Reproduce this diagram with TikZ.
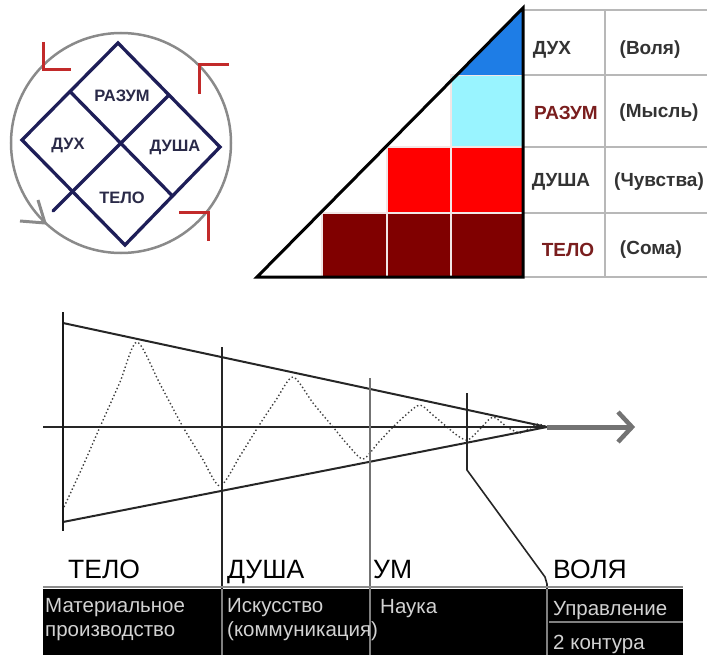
\documentclass[tikz,border=0pt]{standalone}
\usepackage{fontspec}
\setmainfont{Liberation Sans}
\usetikzlibrary{arrows.meta}
\definecolor{navy}{HTML}{1E1E58}
\definecolor{labnavy}{HTML}{2A2A48}
\definecolor{markred}{HTML}{C22A2A}
\definecolor{circgray}{HTML}{8A8A8A}
\definecolor{dred}{HTML}{800000}
\definecolor{bred}{HTML}{FF0000}
\definecolor{lcyan}{HTML}{99F4FF}
\definecolor{mblue}{HTML}{1E7DE6}
\definecolor{tgray}{HTML}{B8B8B8}
\definecolor{txtred}{HTML}{7A1E1E}
\definecolor{txtdark}{HTML}{333333}
\definecolor{celltxt}{HTML}{D2D2D2}
\definecolor{cellsep}{HTML}{F2E6E6}
\begin{document}
\begin{tikzpicture}[x=1pt,y=-1pt,
  dline/.style={draw=navy,line width=3.3pt,line cap=round},
  rmark/.style={draw=markred,line width=3pt},
  dlabel/.style={font=\fontsize{16.5}{18}\selectfont\bfseries,text=labnavy,inner sep=0pt},
  tlab/.style={font=\fontsize{19}{21}\selectfont\bfseries,inner sep=0pt},
  cellbox/.style={draw=cellsep,line width=1.5pt},
  tline/.style={draw=tgray,line width=2pt},
  blab/.style={font=\fontsize{26.5}{28}\selectfont,inner sep=0pt,anchor=base west},
  ctxt/.style={font=\fontsize{20.5}{24}\selectfont,text=celltxt,inner sep=0pt,anchor=base west},
  wave/.style={draw=black!75,line width=1.4pt,dash pattern=on 1.4pt off 2.4pt},
]
\useasboundingbox (0,0) rectangle (707,655);

% ---------- circle diagram ----------
\coordinate (cc) at (121,143);
\draw[draw=circgray,line width=2.5pt] (cc) circle[radius=110];
\draw[draw=circgray,line width=3pt,line join=miter] (20,221) -- (45,223) -- (38,200);
\coordinate (dT) at (118,43);
\coordinate (dR) at (220,147);
\coordinate (dB) at (125,245);
\coordinate (dL) at (22,140);
\coordinate (mTL) at (70,91.5);
\coordinate (mTR) at (169,95);
\coordinate (mRB) at (172.5,196);
\coordinate (mBL) at (73.5,192.5);
\coordinate (tail) at (53,211);
\draw[dline,line join=miter] (dT) -- (dR) -- (dB) -- (dL) -- cycle;
\draw[dline] (mTL) -- (mRB);
\draw[dline] (mTR) -- (tail);
\draw[rmark] (43,42) -- (43,70) -- (71,70);
\draw[rmark] (229,65) -- (199,65) -- (199,94);
\draw[rmark] (179,213) -- (208,213) -- (208,241);
\node[dlabel] (lraz) at (122,96) {РАЗУМ};
\node[dlabel] (ldux) at (68,145) {ДУХ};
\node[dlabel] (ldus) at (175,147) {ДУША};
\node[dlabel] (ltel) at (122,198) {ТЕЛО};

% ---------- triangle diagram ----------
\coordinate (tA) at (257,277);
\coordinate (tB) at (523,8);
\coordinate (tC) at (523,277);
\path[cellbox,fill=dred] (322,213) rectangle (387,277);
\path[cellbox,fill=dred] (387,213) rectangle (451,277);
\path[cellbox,fill=dred] (451,213) rectangle (523,277);
\path[cellbox,fill=bred] (387,147) rectangle (451,213);
\path[cellbox,fill=bred] (451,147) rectangle (523,213);
\path[cellbox,fill=lcyan] (451,75) rectangle (523,147);
\fill[mblue] (457,75) -- (523,8) -- (523,75) -- cycle;
% table
\draw[tline] (523,10) -- (707,10);
\draw[tline] (523,75) -- (707,75);
\draw[tline] (523,147) -- (707,147);
\draw[tline] (523,213) -- (707,213);
\draw[tline] (523,277) -- (707,277);
\draw[tline] (605,10) -- (605,277);
\draw[black,line width=3pt,line join=miter] (tA) -- (tB) -- (tC) -- cycle;
\node[tlab,text=txtdark] (t1a) at (552,50) {ДУХ};
\node[tlab,text=txtdark] (t1b) at (650,50) {(Воля)};
\node[tlab,text=txtred] (t2a) at (566,113) {РАЗУМ};
\node[tlab,text=txtdark] (t2b) at (659,113) {(Мысль)};
\node[tlab,text=txtdark] (t3a) at (561,182) {ДУША};
\node[tlab,text=txtdark] (t3b) at (659,182) {(Чувства)};
\node[tlab,text=txtred] (t4a) at (568,250) {ТЕЛО};
\node[tlab,text=txtdark] (t4b) at (651,250) {(Сома)};

% ---------- cone diagram ----------
\coordinate (apex) at (547,427);
\coordinate (up0) at (63,323);
\coordinate (lo0) at (63,522);
\draw[wave] plot[smooth,tension=0.45] coordinates {
 (64,507) (82,468) (100,427) (120,382) (137,342) (160,384) (183,427) (202,458) (220,486)
 (240,456) (258,427) (276,400) (293,377) (313,403) (333,427) (348,445) (363,459)
 (378,443) (393,427) (407,414) (420,405) (434,416) (447,427) (458,436) (468,440)
 (480,429) (493,417) (507,427) (520,433) (530,428) (538,424) (547,427)};
\draw[black!85,line width=1.6pt] (43,427) -- (apex);
\draw[black!85,line width=2pt] (up0) -- (apex);
\draw[black!85,line width=2pt] (lo0) -- (apex);
\draw[black!90,line width=2pt] (63,312) -- (63,531);
\draw[black!85,line width=1.6pt] (222,347) -- (222,655);
\draw[black!55,line width=2.2pt] (370,378) -- (370,655);
\draw[black!85,line width=1.6pt] (467,393) -- (467,470) -- (545,577) -- (547,584) -- (547,655);
\draw[black!55,line width=5pt] (apex) -- (630,427);
\draw[black!55,line width=4.5pt,line join=miter] (618,412) -- (632,427) -- (618,442);

% ---------- bottom table ----------
\fill[black] (43,589) rectangle (683,655);
\draw[black!50,line width=1.6pt] (222,589) -- (222,655);
\draw[black!50,line width=2pt] (370,589) -- (370,655);
\draw[black!50,line width=1.6pt] (547,589) -- (547,655);
\draw[black!50,line width=1.6pt] (549,622) -- (683,622);
\draw[black!45,line width=2.5pt] (43,587) -- (683,587);
\node[blab] (wtel) at (68,578) {ТЕЛО};
\node[blab] (wdus) at (227,578) {ДУША};
\node[blab] (wum) at (373,578) {УМ};
\node[blab] (wvol) at (553,578) {ВОЛЯ};
\node[ctxt] (c1a) at (45,612) {Материальное};
\node[ctxt] (c1b) at (45,636) {производство};
\node[ctxt] (c2a) at (227,612) {Искусство};
\node[ctxt] (c2b) at (227,636) {(коммуникация)};
\node[ctxt] (c3a) at (380,613) {Наука};
\node[ctxt] (c4a) at (553,615) {Управление};
\node[ctxt] (c4b) at (553,649) {2 контура};
\end{tikzpicture}
\end{document}
